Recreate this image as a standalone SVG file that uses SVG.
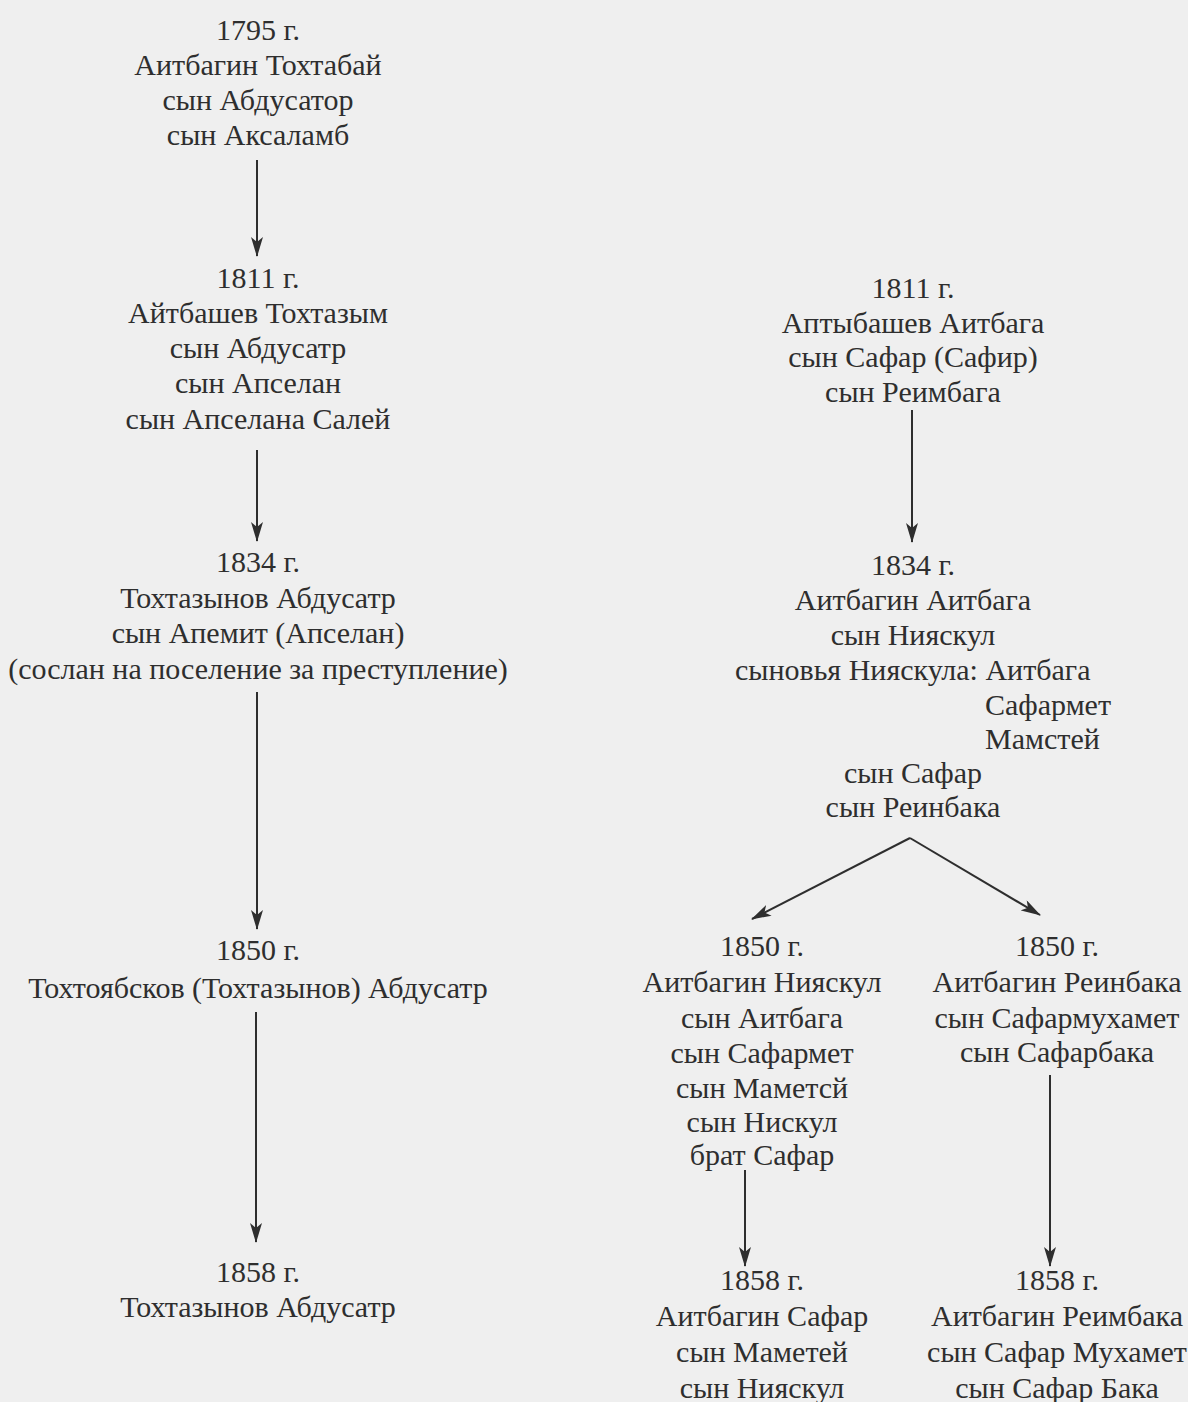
<svg xmlns="http://www.w3.org/2000/svg" width="1188" height="1402" viewBox="0 0 1188 1402">
<defs>
<marker id="ah" viewBox="0 0 20 12" refX="19" refY="6" markerWidth="20" markerHeight="12" markerUnits="userSpaceOnUse" orient="auto">
<path d="M0,0 L20,6 L0,12 L5,6 Z" fill="#2e2e2e"/>
</marker>
</defs>
<style>
text{font-family:"Liberation Serif","Times New Roman",serif;font-size:30px;fill:#2e2e2e;text-anchor:middle}
.l{text-anchor:start}
.c line{stroke:#2e2e2e;stroke-width:2;fill:none;marker-end:url(#ah)}
</style>
<rect width="1188" height="1402" fill="#efefef"/>
<g id="n1795">
<text x="258" y="40">1795 г.</text>
<text x="258" y="75">Аитбагин Тохтабай</text>
<text x="258" y="110">сын Абдусатор</text>
<text x="258" y="145">сын Аксаламб</text>
</g>
<g id="n1811L">
<text x="258" y="288">1811 г.</text>
<text x="258" y="323">Айтбашев Тохтазым</text>
<text x="258" y="358">сын Абдусатр</text>
<text x="258" y="393">сын Апселан</text>
<text x="258" y="429">сын Апселана Салей</text>
</g>
<g id="n1834L">
<text x="258" y="572">1834 г.</text>
<text x="258" y="608">Тохтазынов Абдусатр</text>
<text x="258" y="643">сын Апемит (Апселан)</text>
<text x="258" y="679">(сослан на поселение за преступление)</text>
</g>
<g id="n1850L">
<text x="258" y="960">1850 г.</text>
<text x="258" y="998">Тохтоябсков (Тохтазынов) Абдусатр</text>
</g>
<g id="n1858L">
<text x="258" y="1282">1858 г.</text>
<text x="258" y="1317">Тохтазынов Абдусатр</text>
</g>
<g id="n1811R">
<text x="913" y="298">1811 г.</text>
<text x="913" y="333">Аптыбашев Аитбага</text>
<text x="913" y="367">сын Сафар (Сафир)</text>
<text x="913" y="402">сын Реимбага</text>
</g>
<g id="n1834R">
<text x="913" y="575">1834 г.</text>
<text x="913" y="610">Аитбагин Аитбага</text>
<text x="913" y="645">сын Нияскул</text>
<text class="l" x="735" y="680">сыновья Нияскула: Аитбага</text>
<text class="l" x="985" y="715">Сафармет</text>
<text class="l" x="985" y="749">Мамстей</text>
<text x="913" y="783">сын Сафар</text>
<text x="913" y="817">сын Реинбака</text>
</g>
<g id="n1850RL">
<text x="762" y="956">1850 г.</text>
<text x="762" y="992">Аитбагин Нияскул</text>
<text x="762" y="1028">сын Аитбага</text>
<text x="762" y="1063">сын Сафармет</text>
<text x="762" y="1098">сын Маметсй</text>
<text x="762" y="1132">сын Нискул</text>
<text x="762" y="1165">брат Сафар</text>
</g>
<g id="n1850RR">
<text x="1057" y="956">1850 г.</text>
<text x="1057" y="992">Аитбагин Реинбака</text>
<text x="1057" y="1028">сын Сафармухамет</text>
<text x="1057" y="1062">сын Сафарбака</text>
</g>
<g id="n1858RL">
<text x="762" y="1290">1858 г.</text>
<text x="762" y="1326">Аитбагин Сафар</text>
<text x="762" y="1362">сын Маметей</text>
<text x="762" y="1398">сын Нияскул</text>
</g>
<g id="n1858RR">
<text x="1057" y="1290">1858 г.</text>
<text x="1057" y="1326">Аитбагин Реимбака</text>
<text x="1057" y="1362">сын Сафар Мухамет</text>
<text x="1057" y="1398">сын Сафар Бака</text>
</g>
<g class="c" id="connectors">
<line x1="257" y1="160" x2="257" y2="256"/>
<line x1="257" y1="450" x2="257" y2="541"/>
<line x1="257" y1="692" x2="257" y2="929"/>
<line x1="256" y1="1012" x2="256" y2="1242"/>
<line x1="912" y1="410" x2="912" y2="542"/>
<line x1="910" y1="838" x2="752" y2="919"/>
<line x1="910" y1="838" x2="1040" y2="915"/>
<line x1="745" y1="1170" x2="745" y2="1266"/>
<line x1="1050" y1="1075" x2="1050" y2="1266"/>
</g>
</svg>
